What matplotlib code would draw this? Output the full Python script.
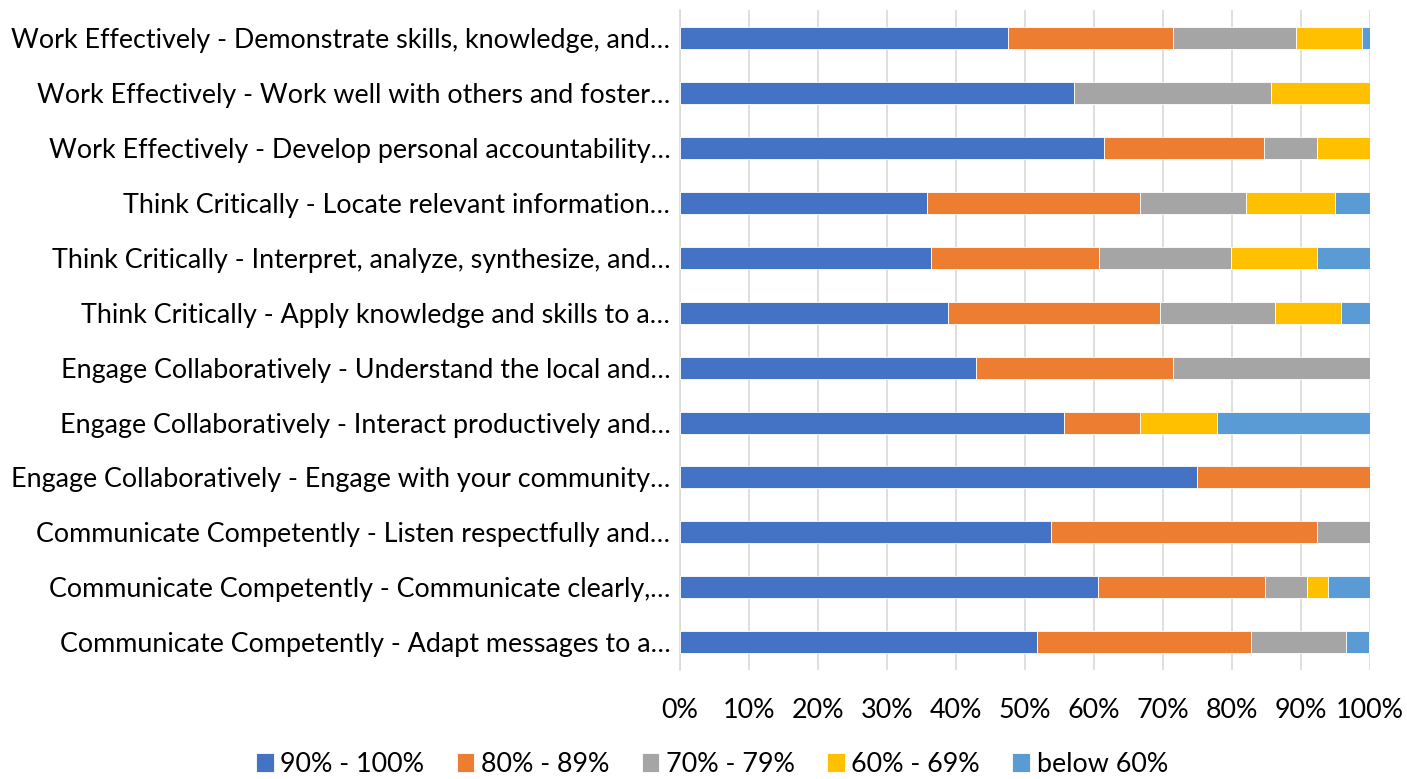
import matplotlib.pyplot as plt
import numpy as np

plt.rcParams['font.family'] = ['Lato', 'DejaVu Sans']

# Categories, bottom to top as drawn
categories = [
    "Communicate Competently - Adapt messages to a…",
    "Communicate Competently - Communicate clearly,…",
    "Communicate Competently - Listen respectfully and…",
    "Engage Collaboratively - Engage with your community…",
    "Engage Collaboratively - Interact productively and…",
    "Engage Collaboratively - Understand the local and…",
    "Think Critically - Apply knowledge and skills to a…",
    "Think Critically - Interpret, analyze, synthesize, and…",
    "Think Critically - Locate relevant information…",
    "Work Effectively - Develop personal accountability…",
    "Work Effectively - Work well with others and foster…",
    "Work Effectively - Demonstrate skills, knowledge, and…",
]

series_names = ["90% - 100%", "80% - 89%", "70% - 79%", "60% - 69%", "below 60%"]
colors = ["#4472C4", "#ED7D31", "#A5A5A5", "#FFC000", "#5B9BD5"]

# percentage of responses per band (same order as categories)
s90 = [51.7, 60.6, 53.8, 75.0, 55.6, 42.9, 38.9, 36.4, 35.8, 61.5, 57.1, 47.6]
s80 = [31.0, 24.2, 38.5, 25.0, 11.1, 28.6, 30.6, 24.3, 30.9, 23.1, 0.0, 23.8]
s70 = [13.8, 6.1, 7.7, 0.0, 0.0, 28.5, 16.8, 19.2, 15.3, 7.7, 28.6, 17.9]
s60 = [0.0, 3.0, 0.0, 0.0, 11.1, 0.0, 9.5, 12.4, 13.0, 7.7, 14.3, 9.5]
s_below = [3.4, 6.1, 0.0, 0.0, 22.2, 0.0, 4.2, 7.7, 5.0, 0.0, 0.0, 1.2]

series = [s90, s80, s70, s60, s_below]

fig = plt.figure(figsize=(14.07, 7.79), dpi=100)
ax = fig.add_axes([0.4833, 0.140, 0.4904, 0.847])

y = np.arange(len(categories))
left = np.zeros(len(categories))
for name, vals, c in zip(series_names, series, colors):
    vals = np.array(vals)
    ax.barh(y, vals, left=left, height=0.4, color=c, label=name,
            edgecolor='white', linewidth=0.6, zorder=3)
    left += vals

ax.set_xlim(0, 100)
ax.set_ylim(-0.5, len(categories) - 0.5)
ax.set_yticks(y)
ax.set_yticklabels(categories, fontsize=19.4, color='#000000')
ax.set_xticks(np.arange(0, 101, 10))
ax.set_xticklabels([f"{v}%" for v in range(0, 101, 10)], fontsize=19.4)
ax.tick_params(axis='both', length=0)
ax.tick_params(axis='y', pad=7)
ax.tick_params(axis='x', pad=20)

ax.grid(axis='x', color='#D9D9D9', linewidth=1.2, zorder=0)
for side in ['top', 'right', 'bottom']:
    ax.spines[side].set_visible(False)
ax.spines['left'].set_color('#D9D9D9')
ax.spines['left'].set_linewidth(1.2)

fig.legend(loc='lower center', bbox_to_anchor=(0.506, -0.028), ncol=5,
           frameon=False, fontsize=19.4, handlelength=0.65, handleheight=0.7,
           handletextpad=0.25, columnspacing=1.2)

fig.savefig('out.png', dpi=100)
